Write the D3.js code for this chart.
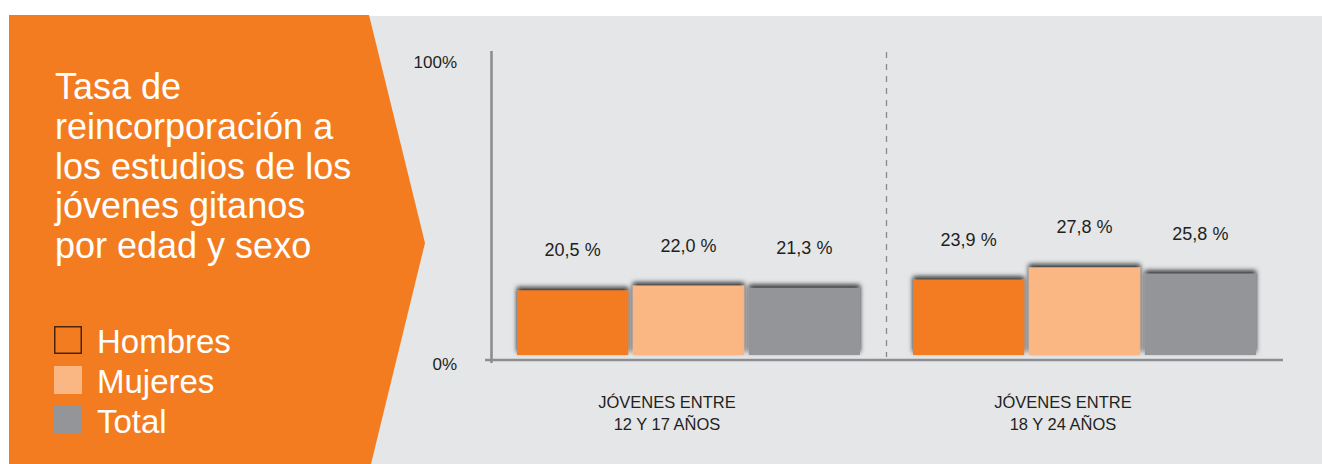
<!DOCTYPE html>
<html>
<head>
<meta charset="utf-8">
<script src="https://cdn.jsdelivr.net/npm/d3@7"></script>
<style>
  body { margin: 0; background: #fff; }
  svg { display: block; }
  text { font-family: "Liberation Sans", Arial, sans-serif; }
</style>
</head>
<body>
<div id="wrapper"></div>
<script>
// data
const titleLines = ["Tasa de", "reincorporación a", "los estudios de los", "jóvenes gitanos", "por edad y sexo"]
const groups = ["12-17", "18-24"]
const groupLabels = [["JÓVENES ENTRE", "12 Y 17 AÑOS"], ["JÓVENES ENTRE", "18 Y 24 AÑOS"]]
const seriesNames = ["Hombres", "Mujeres", "Total"]
const hombres = [20.5, 23.9]
const mujeres = [22.0, 27.8]
const total = [21.3, 25.8]
const yTicks = [0, 100]
const colors = ["#F37C21", "#FAB783", "#939598"]

function drawChart() {
    const width = 1322
    const height = 464

    const svg = d3.select("#wrapper")
        .append("svg")
        .attr("width", width)
        .attr("height", height)

    const defs = svg.append("defs")
    const shadow = defs.append("filter")
        .attr("id", "barShadow")
        .attr("x", "-10%").attr("y", "-25%")
        .attr("width", "120%").attr("height", "135%")
    shadow.append("feDropShadow")
        .attr("dx", 0).attr("dy", -3)
        .attr("stdDeviation", 2.5)
        .attr("flood-color", "#111")
        .attr("flood-opacity", 0.9)

    // background panels
    svg.append("rect")
        .attr("x", 300).attr("y", 16)
        .attr("width", width - 300).attr("height", height - 16)
        .attr("fill", "#E5E6E8")

    svg.append("path")
        .attr("d", "M9,15 L369,15 L425,243 L371,464 L9,464 Z")
        .attr("fill", "#F37C21")

    // title
    svg.append("text")
        .attr("x", 55).attr("y", 99)
        .attr("fill", "#fff")
        .style("font-size", "36px")
        .selectAll("tspan")
        .data(titleLines)
        .enter()
        .append("tspan")
        .attr("x", 55)
        .attr("dy", (d, i) => i === 0 ? 0 : 39.8)
        .text(d => d)

    // legend
    const legend = svg.append("g")
    const legendItems = legend.selectAll("g")
        .data(seriesNames)
        .enter()
        .append("g")
        .attr("transform", (d, i) => `translate(54, ${326 + i * 40})`)
    legendItems.append("rect")
        .attr("x", (d, i) => i === 0 ? 0.75 : 0)
        .attr("y", (d, i) => i === 0 ? 0.75 : 0)
        .attr("width", (d, i) => i === 0 ? 26.5 : 28)
        .attr("height", (d, i) => i === 0 ? 26.5 : 28)
        .attr("fill", (d, i) => colors[i])
        .attr("stroke", (d, i) => i === 0 ? "#4a2406" : "none")
        .attr("stroke-width", 1.5)
    legendItems.append("text")
        .attr("x", 43).attr("y", 27)
        .attr("fill", "#fff")
        .style("font-size", "33px")
        .text(d => d)

    // scales
    const x0 = d3.scaleBand()
        .domain(groups)
        .range([491, 1283])
        .padding(0)

    const x1 = d3.scaleBand()
        .domain(seriesNames)
        .range([26, x0.bandwidth() - 27])
        .paddingInner(0.04)

    const y = d3.scaleLinear()
        .domain([0, 100])
        .range([355, 40])

    const yAxisScale = d3.scaleLinear()
        .domain([0, 100])
        .range([360, 51])

    // axes
    const axisColor = "#8D8E91"
    svg.append("line")
        .attr("x1", 491.5).attr("x2", 491.5)
        .attr("y1", yAxisScale(100)).attr("y2", yAxisScale(0) + 3)
        .attr("stroke", axisColor).attr("stroke-width", 2.6)
    svg.append("line")
        .attr("x1", 485).attr("x2", 1283)
        .attr("y1", yAxisScale(0)).attr("y2", yAxisScale(0))
        .attr("stroke", axisColor).attr("stroke-width", 2.6)

    svg.append("g")
        .selectAll("text")
        .data(yTicks)
        .enter()
        .append("text")
        .attr("x", 457)
        .attr("y", d => yAxisScale(d) + (d === 100 ? 17 : 10))
        .attr("text-anchor", "end")
        .attr("fill", "#231F20")
        .style("font-size", "17px")
        .text(d => d + "%")

    // divider between groups
    svg.append("line")
        .attr("x1", x0(groups[1]) - 0.5).attr("x2", x0(groups[1]) - 0.5)
        .attr("y1", 52).attr("y2", 357)
        .attr("stroke", "#88898C")
        .attr("stroke-width", 1.3)
        .attr("stroke-dasharray", "6 6")

    // bars
    const locale = d3.formatLocale({ decimal: ",", thousands: ".", grouping: [3], currency: ["", "€"] })
    const fmt = locale.format(".1f")
    const values = [hombres, mujeres, total]
    const rows = groups.map((g, gi) => ({
        group: g,
        items: seriesNames.map((s, si) => ({ series: s, value: values[si][gi], color: colors[si] }))
    }))

    const groupG = svg.append("g")
        .selectAll("g")
        .data(rows)
        .enter()
        .append("g")
        .attr("transform", d => `translate(${x0(d.group)}, 0)`)

    groupG.selectAll("rect")
        .data(d => d.items)
        .enter()
        .append("rect")
        .attr("x", d => x1(d.series))
        .attr("y", d => y(d.value))
        .attr("width", x1.bandwidth())
        .attr("height", d => y(0) - y(d.value))
        .attr("fill", d => d.color)
        .attr("filter", "url(#barShadow)")

    groupG.selectAll("text.value")
        .data(d => d.items)
        .enter()
        .append("text")
        .attr("class", "value")
        .attr("x", d => x1(d.series) + x1.bandwidth() / 2)
        .attr("y", d => y(d.value) - 34)
        .attr("text-anchor", "middle")
        .attr("fill", "#231F20")
        .style("font-size", "18px")
        .text(d => fmt(d.value) + " %")

    // category labels
    svg.append("g")
        .selectAll("text")
        .data(groups)
        .enter()
        .append("text")
        .attr("x", d => x0(d) + x0.bandwidth() / 2 - 22)
        .attr("y", 408)
        .attr("text-anchor", "middle")
        .attr("fill", "#231F20")
        .style("font-size", "16.5px")
        .selectAll("tspan")
        .data((d, i) => groupLabels[i])
        .enter()
        .append("tspan")
        .attr("x", function () { return d3.select(this.parentNode).attr("x") })
        .attr("dy", (d, i) => i === 0 ? 0 : 22)
        .text(d => d)
}

drawChart()
</script>
</body>
</html>
